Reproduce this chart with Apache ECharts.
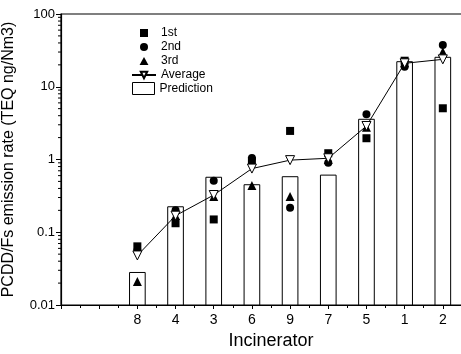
<!DOCTYPE html>
<html lang="en">
<head>
  <meta charset="UTF-8">
  <title>PCDD/Fs emission rate</title>
  <style>
    html, body{margin:0; padding:0; background:#fff}
    #chart{width:461px; height:354px}
  </style>
  <script src="https://cdn.jsdelivr.net/npm/echarts@6/dist/echarts.min.js"></script>
</head>
<body>
  <div id="chart"></div>
  <script>
    // incinerators in plotted order, first one sits at x = 2
    const incinerators = ['8', '4', '3', '6', '9', '7', '5', '1', '2'];
    const first      = [0.064, 0.133, 0.15, 0.95, 2.47, 1.22, 1.96, 22.8, 5.06];
    const second     = [0.056, 0.20, 0.51, 1.05, 0.217, 0.90, 4.18, 18.9, 37.5];
    const third      = [0.021, 0.17, 0.31, 0.44, 0.31, 1.0, 2.77, 21.3, 30.3];
    const average    = [0.048, 0.169, 0.325, 0.75, 0.98, 1.04, 2.89, 21.0, 23.8];
    const prediction = [0.028, 0.224, 0.57, 0.45, 0.58, 0.61, 3.57, 22.1, 25.4];

    const yTicks = [0.01, 0.1, 1, 10, 100];
    const minorSteps = [2, 3, 4, 5, 6, 7, 8, 9];

    const offset = 2;
    const font = '"Liberation Sans", Arial, Helvetica, sans-serif';
    const ink = '#000';

    const pairs = arr => arr.map((v, i) => [i + offset, v]);
    const minorVals = [];
    yTicks.slice(0, -1).forEach(d => minorSteps.forEach(s => minorVals.push([0, +(d * s).toPrecision(3)])));

    const chart = echarts.init(document.getElementById('chart'));

    const option = {
      animation: false,
      textStyle: {fontFamily: font, color: ink},
      grid: {
        left: 61, top: 14, right: -20, bottom: 49, outerBoundsMode: 'none', containLabel: false,
        show: true, borderColor: ink, borderWidth: 1.2
      },
      legend: [{
        orient: 'vertical', left: 126, top: 22, itemWidth: 24, itemHeight: 8, itemGap: 2,
        textStyle: {fontFamily: font, fontSize: 12, color: ink},
        data: [
          {name: '1st', icon: 'path://M0,0h10v10h-10z'},
          {name: '2nd', icon: 'circle'},
          {name: '3rd', icon: 'path://M5,0L10,9L0,9Z'},
          {name: 'Average'}
        ]
      }, {
        orient: 'vertical', left: 127, top: 77, itemWidth: 22, itemHeight: 12,
        textStyle: {fontFamily: font, fontSize: 12, color: ink},
        data: [{name: 'Prediction', icon: 'rect', itemStyle: {color: '#fff', borderColor: ink, borderWidth: 1}}]
      }],
      xAxis: {
        type: 'value', min: 0, max: 11, interval: 1,
        name: 'Incinerator', nameLocation: 'middle', nameGap: 26,
        nameTextStyle: {fontFamily: font, fontSize: 18, color: ink},
        axisLine: {lineStyle: {color: ink, width: 1.2}},
        axisTick: {inside: false, length: 4, lineStyle: {color: ink}},
        minorTick: {show: true, splitNumber: 2, length: 3, lineStyle: {color: ink}},
        splitLine: {show: false},
        axisLabel: {
          fontSize: 14, color: ink, margin: 8,
          formatter: v => incinerators[v - offset] || ''
        }
      },
      yAxis: {
        type: 'log', logBase: 10, min: 0.01, max: 100,
        name: 'PCDD/Fs emission rate (TEQ ng/Nm3)', nameLocation: 'middle', nameGap: 44,
        nameTextStyle: {fontFamily: font, fontSize: 16, color: ink},
        axisLine: {show: true, lineStyle: {color: ink, width: 1.2}},
        axisTick: {show: true, inside: false, length: 5, lineStyle: {color: ink}},
        splitLine: {show: false},
        axisLabel: {
          fontSize: 13, color: ink, margin: 6,
          formatter: v => String(+v.toPrecision(3))
        }
      },
      series: [{
        name: 'Prediction',
        type: 'custom',
        clip: false,
        itemStyle: {color: '#fff', borderColor: ink},
        renderItem: function(params, api){
          const x = api.value(0), v = api.value(1);
          const top = api.coord([x, v]);
          const bot = api.coord([x, 0.01]);
          const w = api.size([1, 1])[0] * 0.41;
          return {
            type: 'rect',
            shape: {x: top[0] - w / 2, y: top[1], width: w, height: bot[1] - top[1]},
            style: {fill: '#fff', stroke: ink, lineWidth: 1}
          };
        },
        encode: {x: 0, y: 1},
        data: pairs(prediction)
      }, {
        name: 'yMinor',
        type: 'custom',
        clip: false,
        silent: true,
        renderItem: function(params, api){
          const p = api.coord([api.value(0), api.value(1)]);
          return {
            type: 'line',
            shape: {x1: p[0] - 3, y1: p[1], x2: p[0], y2: p[1]},
            style: {stroke: ink, lineWidth: 1}
          };
        },
        encode: {x: 0, y: 1},
        data: minorVals
      }, {
        name: '1st', type: 'scatter', symbol: 'rect', symbolSize: 8,
        itemStyle: {color: ink, opacity: 1}, data: pairs(first)
      }, {
        name: '2nd', type: 'scatter', symbol: 'circle', symbolSize: 8,
        itemStyle: {color: ink, opacity: 1}, data: pairs(second)
      }, {
        name: '3rd', type: 'scatter', symbol: 'triangle', symbolSize: 9,
        itemStyle: {color: ink, opacity: 1}, data: pairs(third)
      }, {
        name: 'Average', type: 'line', symbol: 'triangle', symbolRotate: 180, symbolSize: 9,
        lineStyle: {color: ink, width: 1},
        itemStyle: {color: '#fff', borderColor: ink, borderWidth: 1},
        data: pairs(average)
      }]
    };

    chart.setOption(option);
  </script>
</body>
</html>
